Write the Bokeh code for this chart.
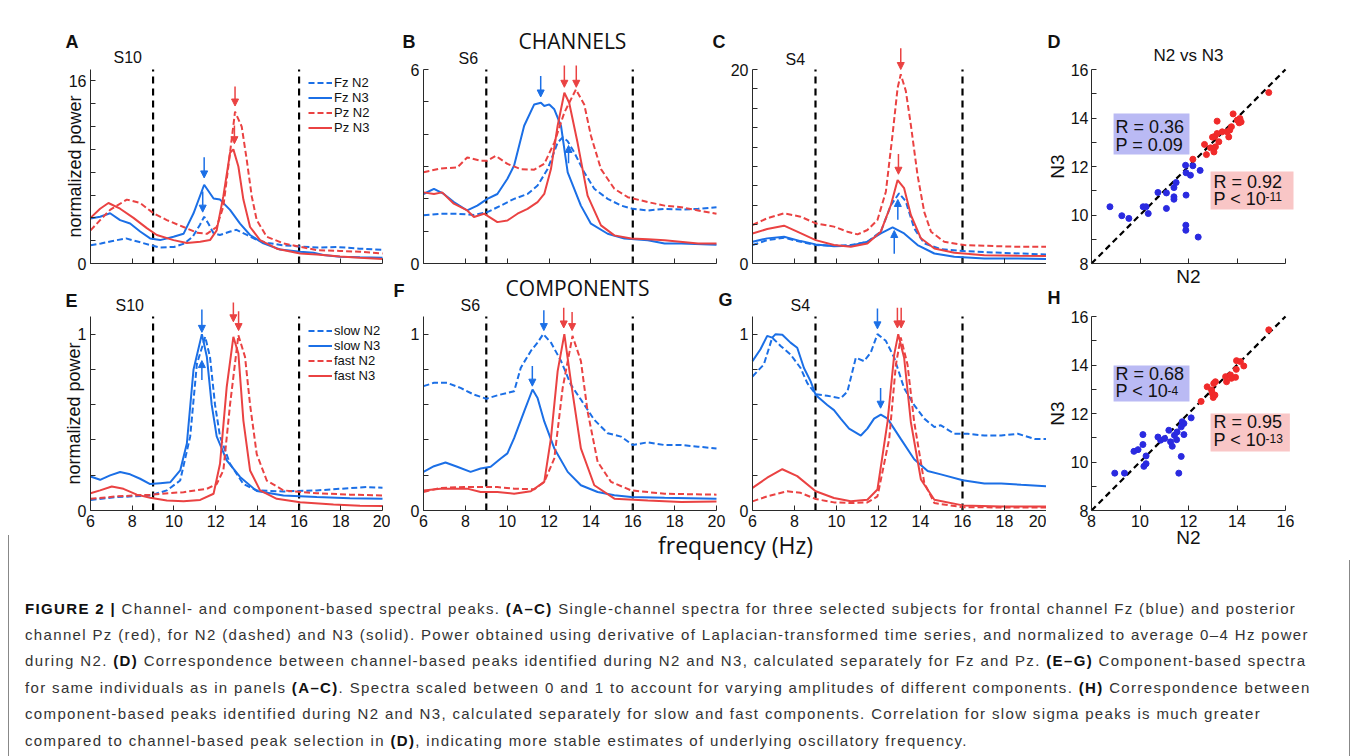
from bokeh.plotting import figure
from bokeh.layouts import row, column
from bokeh.models import (Label, Legend, LegendItem, Arrow, NormalHead, LinearAxis,
                          FixedTicker, BoxAnnotation, Div)
from bokeh.embed import file_html
from bokeh.resources import INLINE

# ---------------- colours / fonts ----------------
BLUE = "#1b6fe6"
RED = "#ea4242"
DOT_BLUE = "#2a2ae0"
DOT_RED = "#f02a2a"
BOX_BLUE = "#babaf4"
BOX_RED = "#f9c6c6"
FONT = "Liberation Sans"
FONT2 = "Open Sans"
FIX = 0.38   # raise alphabetic-baseline labels by this fraction of their size

# ---------------- data ----------------
freq_ticks = [6, 8, 10, 12, 14, 16, 18, 20]
sigma_band = [9, 16]

# Panel A  (S10, channels)
A_fzN2_x = [6.0, 6.5, 7.0, 7.7, 8.3, 8.9, 9.3, 10.0, 10.5, 10.9, 11.25, 11.45, 11.65, 11.9, 12.2, 12.7, 13.0, 13.5, 14.0, 14.5, 15.2, 16.0, 16.9, 17.8, 18.9, 20.0]
A_fzN2_y = [1.6, 1.75, 1.95, 2.2, 1.9, 1.6, 1.4, 1.45, 1.75, 2.35, 3.4, 4.1, 3.5, 2.65, 2.5, 2.8, 2.95, 2.5, 2.05, 1.8, 1.6, 1.5, 1.4, 1.45, 1.3, 1.2]
A_fzN3_x = [6.0, 6.46, 6.94, 7.42, 7.9, 8.38, 8.86, 9.34, 9.98, 10.46, 10.94, 11.45, 11.9, 12.21, 12.69, 13.17, 13.65, 14.29, 15.09, 16.05, 16.69, 17.17, 17.96, 18.92, 20.0]
A_fzN3_y = [3.95, 4.1, 4.4, 3.8, 3.5, 2.8, 2.2, 2.05, 2.35, 2.6, 4.4, 6.9, 5.7, 5.6, 4.7, 3.5, 2.5, 1.76, 1.23, 1.03, 0.94, 0.75, 0.6, 0.55, 0.5]
A_pzN2_x = [6.0, 6.46, 6.94, 7.74, 8.38, 9.02, 9.66, 10.46, 11.1, 11.58, 12.05, 12.37, 12.69, 12.93, 13.25, 13.49, 13.73, 13.97, 14.45, 15.25, 16.05, 16.85, 17.96, 18.92, 20.0]
A_pzN2_y = [2.9, 3.8, 4.7, 5.6, 5.3, 4.4, 3.8, 3.2, 2.7, 2.6, 3.2, 5.0, 9.7, 13.3, 12.0, 9.1, 5.9, 3.8, 2.35, 1.76, 1.47, 1.17, 1.1, 1.03, 0.88]
A_pzN3_x = [6.0, 6.46, 6.86, 7.42, 8.06, 8.7, 9.18, 9.98, 10.62, 11.26, 11.73, 12.05, 12.37, 12.69, 12.85, 13.09, 13.33, 13.65, 14.13, 14.93, 16.05, 16.85, 17.96, 18.92, 20.0]
A_pzN3_y = [4.0, 4.8, 5.3, 4.8, 4.0, 3.1, 2.5, 2.05, 1.8, 1.9, 2.05, 2.9, 5.9, 9.7, 10.0, 8.5, 5.6, 3.2, 2.05, 1.3, 0.88, 0.79, 0.62, 0.5, 0.4]
A_arrow_x = [12.93, 12.9, 11.45, 11.38]
A_arrow_tail = [15.5, 12.1, 9.3, 6.3]
A_arrow_tip = [13.8, 10.5, 7.5, 4.5]
A_arrow_col = ["red", "red", "blue", "blue"]

# Panel B  (S6, channels)
B_fzN2_x = [6.0, 6.81, 7.61, 8.41, 9.05, 9.69, 10.33, 10.97, 11.45, 11.93, 12.41, 12.65, 12.88, 13.2, 13.68, 14.16, 14.8, 15.44, 16.0, 16.72, 17.52, 18.32, 19.12, 20.0]
B_fzN2_y = [1.49, 1.54, 1.54, 1.5, 1.59, 1.79, 2.0, 2.15, 2.41, 2.92, 3.74, 3.9, 3.79, 3.44, 2.82, 2.31, 2.0, 1.79, 1.69, 1.64, 1.69, 1.67, 1.69, 1.74]
B_fzN3_x = [6.0, 6.5, 6.97, 7.45, 8.09, 8.57, 9.05, 9.53, 10.01, 10.33, 10.81, 11.29, 11.61, 11.77, 12.01, 12.25, 12.57, 12.89, 13.52, 14.0, 14.8, 15.6, 16.72, 17.52, 18.32, 20.0]
B_fzN3_y = [2.15, 2.31, 2.15, 1.9, 1.64, 1.79, 2.0, 2.15, 2.62, 3.03, 4.26, 4.92, 4.97, 4.87, 4.92, 4.77, 4.26, 2.82, 1.79, 1.23, 0.92, 0.77, 0.72, 0.62, 0.62, 0.58]
B_pzN2_x = [6.0, 6.81, 7.61, 8.09, 8.73, 9.05, 9.45, 10.01, 10.65, 11.29, 11.77, 12.25, 12.73, 13.28, 13.68, 14.0, 14.48, 15.12, 15.76, 16.72, 17.52, 18.32, 19.12, 20.0]
B_pzN2_y = [2.82, 2.94, 2.97, 3.28, 3.18, 3.18, 3.33, 3.08, 2.92, 2.9, 3.08, 3.74, 4.67, 5.38, 4.92, 3.95, 2.92, 2.31, 2.05, 1.9, 1.79, 1.74, 1.64, 1.54]
B_pzN3_x = [6.0, 6.5, 6.89, 7.45, 8.09, 8.41, 8.89, 9.53, 10.01, 10.49, 10.97, 11.45, 11.77, 12.09, 12.41, 12.73, 12.96, 13.36, 13.84, 14.48, 15.12, 15.92, 16.72, 17.52, 19.12, 20.0]
B_pzN3_y = [2.2, 2.15, 2.2, 1.85, 1.64, 1.44, 1.54, 1.28, 1.33, 1.54, 1.69, 1.9, 2.15, 2.92, 4.26, 5.28, 4.97, 3.74, 2.1, 1.18, 0.87, 0.77, 0.75, 0.72, 0.62, 0.62]
B_arrow_x = [11.6, 12.73, 13.3, 12.93]
B_arrow_tail = [5.8, 6.12, 6.12, 3.1]
B_arrow_tip = [5.15, 5.45, 5.45, 3.65]
B_arrow_col = ["blue", "red", "red", "blue"]

# Panel C  (S4, channels)
C_pzN2_x = [6.0, 6.7, 7.5, 8.29, 9.01, 9.88, 10.52, 11.0, 11.47, 11.95, 12.35, 12.67, 12.91, 13.06, 13.3, 13.54, 13.86, 14.18, 14.5, 15.13, 16.09, 17.04, 18.63, 20.0]
C_pzN2_y = [3.97, 4.66, 5.17, 4.83, 4.14, 3.8, 3.28, 3.0, 3.45, 4.48, 7.4, 13.3, 18.1, 19.5, 17.8, 14.3, 9.1, 5.3, 3.28, 2.24, 1.9, 1.83, 1.72, 1.72]
C_pzN3_x = [6.0, 6.7, 7.5, 8.13, 9.01, 9.88, 10.68, 11.47, 12.11, 12.59, 12.91, 13.22, 13.54, 14.02, 14.66, 15.61, 17.04, 18.63, 20.0]
C_pzN3_y = [3.1, 3.55, 3.9, 3.28, 2.41, 1.9, 1.72, 2.07, 3.28, 6.03, 8.6, 7.76, 5.0, 2.6, 1.55, 1.1, 0.86, 0.79, 0.76]
C_fzN2_x = [6.0, 6.7, 7.5, 8.29, 9.01, 9.88, 10.68, 11.47, 12.11, 12.59, 12.98, 13.3, 13.7, 14.18, 14.97, 16.09, 17.84, 20.0]
C_fzN2_y = [1.9, 2.41, 2.66, 2.24, 1.9, 1.83, 1.9, 2.24, 3.28, 6.0, 7.24, 6.4, 3.62, 2.07, 1.48, 1.28, 1.1, 0.93]
C_fzN3_x = [6.0, 6.7, 7.5, 8.29, 9.01, 9.88, 10.68, 11.47, 12.11, 12.67, 13.22, 13.86, 14.66, 15.61, 17.04, 18.63, 20.0]
C_fzN3_y = [2.24, 2.59, 2.76, 2.31, 1.97, 1.79, 1.83, 2.24, 3.1, 3.72, 3.1, 1.9, 1.03, 0.69, 0.52, 0.52, 0.45]
C_arrow_x = [13.06, 12.95, 12.92, 12.75]
C_arrow_tail = [22.2, 11.3, 4.5, 1.0]
C_arrow_tip = [20.0, 9.2, 6.6, 3.4]
C_arrow_col = ["red", "red", "blue", "blue"]

# Panel E  (S10, components)
E_slowN2_x = [6.0, 7.26, 8.86, 9.66, 10.3, 10.78, 11.1, 11.5, 11.73, 11.97, 12.21, 12.69, 13.33, 13.97, 15.25, 16.85, 17.96, 19.24, 20.0]
E_slowN2_y = [0.06, 0.076, 0.085, 0.114, 0.17, 0.42, 0.83, 0.985, 0.87, 0.6, 0.42, 0.265, 0.15, 0.114, 0.108, 0.114, 0.123, 0.133, 0.129]
E_slowN3_x = [6.0, 6.46, 6.94, 7.42, 7.9, 8.38, 8.86, 9.34, 9.82, 10.3, 10.62, 10.94, 11.34, 11.58, 11.81, 12.05, 12.53, 13.17, 13.97, 15.25, 16.85, 18.44, 20.0]
E_slowN3_y = [0.193, 0.174, 0.199, 0.218, 0.205, 0.18, 0.15, 0.155, 0.16, 0.227, 0.38, 0.8, 1.0, 0.87, 0.6, 0.42, 0.284, 0.19, 0.11, 0.085, 0.076, 0.07, 0.066]
E_fastN2_x = [6.0, 7.26, 8.86, 10.46, 11.58, 12.05, 12.37, 12.69, 13.09, 13.41, 13.65, 13.97, 14.45, 15.25, 16.85, 18.44, 20.0]
E_fastN2_y = [0.066, 0.08, 0.09, 0.104, 0.123, 0.15, 0.227, 0.6, 0.994, 0.87, 0.6, 0.32, 0.17, 0.114, 0.098, 0.09, 0.085]
E_fastN3_x = [6.0, 6.46, 7.02, 7.58, 8.22, 8.86, 9.66, 10.46, 11.26, 11.9, 12.21, 12.53, 12.85, 13.09, 13.33, 13.65, 14.13, 14.93, 16.05, 17.65, 18.92, 20.0]
E_fastN3_y = [0.098, 0.114, 0.136, 0.123, 0.09, 0.072, 0.057, 0.053, 0.06, 0.095, 0.265, 0.7, 0.985, 0.89, 0.51, 0.227, 0.114, 0.066, 0.047, 0.034, 0.027, 0.025]
E_arrow_x = [11.34, 11.34, 12.85, 13.1]
E_arrow_tail = [1.14, 0.74, 1.18, 1.13]
E_arrow_tip = [1.01, 0.85, 1.07, 1.02]
E_arrow_col = ["blue", "blue", "red", "red"]

# Panel F  (S6, components)
F_slowN2_x = [6.0, 6.5, 7.13, 7.77, 8.41, 9.0, 9.53, 10.01, 10.33, 10.65, 11.13, 11.45, 11.72, 12.09, 12.57, 13.04, 13.52, 14.16, 14.8, 15.44, 16.0, 16.72, 17.52, 18.32, 19.12, 20.0]
F_slowN2_y = [0.705, 0.724, 0.724, 0.695, 0.657, 0.634, 0.653, 0.667, 0.676, 0.81, 0.905, 0.952, 1.0, 0.952, 0.848, 0.714, 0.629, 0.514, 0.438, 0.419, 0.371, 0.387, 0.371, 0.371, 0.362, 0.352]
F_slowN3_x = [6.0, 6.5, 7.05, 7.61, 8.25, 8.73, 9.21, 9.69, 10.01, 10.33, 10.81, 11.21, 11.45, 11.77, 12.25, 12.89, 13.52, 14.32, 15.12, 15.92, 17.52, 20.0]
F_slowN3_y = [0.219, 0.251, 0.272, 0.248, 0.219, 0.238, 0.248, 0.295, 0.324, 0.41, 0.562, 0.686, 0.638, 0.505, 0.352, 0.219, 0.143, 0.105, 0.086, 0.076, 0.072, 0.067]
F_fastN2_x = [6.0, 6.81, 7.93, 8.73, 9.53, 10.33, 11.29, 11.77, 12.25, 12.65, 13.12, 13.52, 13.84, 14.32, 14.96, 15.92, 17.52, 20.0]
F_fastN2_y = [0.105, 0.128, 0.133, 0.133, 0.133, 0.124, 0.12, 0.162, 0.295, 0.695, 0.99, 0.848, 0.562, 0.276, 0.162, 0.114, 0.095, 0.09]
F_fastN3_x = [6.0, 6.81, 8.09, 8.73, 9.53, 10.33, 11.13, 11.77, 12.09, 12.41, 12.73, 13.04, 13.52, 14.16, 15.12, 16.72, 18.32, 20.0]
F_fastN3_y = [0.114, 0.124, 0.124, 0.105, 0.105, 0.095, 0.109, 0.162, 0.41, 0.79, 1.0, 0.733, 0.352, 0.143, 0.067, 0.057, 0.048, 0.051]
F_arrow_x = [11.75, 11.2, 12.7, 13.1]
F_arrow_tail = [1.135, 0.82, 1.15, 1.125]
F_arrow_tip = [1.02, 0.705, 1.035, 1.02]
F_arrow_col = ["blue", "blue", "red", "red"]

# Panel G  (S4, components)
G_slowN2_x = [6.0, 6.54, 6.94, 7.34, 7.81, 8.29, 8.61, 9.01, 9.56, 10.2, 10.52, 10.92, 11.31, 11.63, 11.95, 12.35, 12.75, 13.22, 13.7, 14.18, 14.66, 14.97, 15.61, 16.25, 17.04, 17.84, 18.63, 19.43, 20.0]
G_slowN2_y = [0.76, 0.828, 0.98, 0.933, 0.885, 0.808, 0.722, 0.659, 0.651, 0.636, 0.674, 0.866, 0.847, 0.895, 1.0, 0.962, 0.866, 0.693, 0.598, 0.521, 0.473, 0.483, 0.435, 0.435, 0.425, 0.425, 0.435, 0.406, 0.406]
G_slowN3_x = [6.0, 6.38, 6.7, 6.94, 7.1, 7.42, 7.81, 8.13, 8.45, 8.77, 9.01, 9.56, 9.88, 10.2, 10.6, 11.16, 11.47, 11.79, 12.11, 12.43, 13.06, 13.7, 14.34, 14.97, 16.01, 17.04, 17.84, 18.79, 20.0]
G_slowN3_y = [0.847, 0.914, 0.99, 0.98, 1.0, 0.996, 0.952, 0.923, 0.808, 0.732, 0.655, 0.598, 0.569, 0.521, 0.464, 0.425, 0.464, 0.521, 0.544, 0.521, 0.406, 0.291, 0.224, 0.205, 0.172, 0.153, 0.153, 0.146, 0.138]
G_fastN2_x = [6.0, 6.7, 7.65, 8.29, 9.01, 9.88, 10.68, 11.47, 11.95, 12.51, 12.83, 13.06, 13.38, 13.7, 14.18, 14.66, 16.01, 17.84, 20.0]
G_fastN2_y = [0.052, 0.08, 0.109, 0.1, 0.065, 0.046, 0.042, 0.046, 0.08, 0.406, 0.828, 0.981, 0.828, 0.502, 0.157, 0.042, 0.019, 0.017, 0.017]
G_fastN3_x = [6.0, 6.7, 7.42, 8.13, 9.01, 9.88, 10.68, 11.47, 11.95, 12.43, 12.75, 12.94, 13.22, 13.54, 14.02, 14.66, 16.01, 17.84, 20.0]
G_fastN3_y = [0.128, 0.186, 0.234, 0.195, 0.109, 0.071, 0.052, 0.061, 0.119, 0.502, 0.885, 1.0, 0.866, 0.502, 0.176, 0.061, 0.029, 0.023, 0.023]
G_arrow_x = [11.95, 12.1, 12.9, 13.08]
G_arrow_tail = [1.145, 0.695, 1.15, 1.15]
G_arrow_tip = [1.03, 0.58, 1.035, 1.035]
G_arrow_col = ["blue", "blue", "red", "red"]

# Panel D  (channel peaks, N2 vs N3)
D_fz_n2 = [8.76, 9.25, 9.54, 10.13, 10.25, 10.34, 10.74, 11.09, 11.09, 11.4, 11.49, 11.4, 11.4, 11.88, 11.9, 12.08, 12.18, 12.48, 11.9, 11.89, 11.89, 12.4]
D_fz_n3 = [10.34, 9.97, 9.86, 10.34, 10.34, 10.06, 10.93, 10.91, 10.27, 11.13, 11.34, 10.75, 10.65, 12.05, 11.74, 11.64, 12.03, 11.84, 10.82, 9.58, 9.37, 9.09]
D_pz_n2 = [12.18, 12.66, 12.74, 12.91, 13.05, 12.99, 13.09, 13.18, 13.18, 13.25, 13.39, 13.59, 13.66, 13.7, 13.77, 13.84, 14.01, 14.09, 14.12, 14.17, 15.31, 13.11]
D_pz_n3 = [12.3, 12.91, 12.49, 12.77, 12.6, 13.21, 13.24, 13.87, 13.36, 13.02, 13.43, 13.43, 13.22, 13.5, 13.64, 14.17, 13.91, 13.8, 13.98, 13.84, 15.05, 12.81]

# Panel H  (component peaks, N2 vs N3)
H_slow_n2 = [8.96, 9.36, 9.75, 9.92, 10.12, 10.12, 10.16, 10.25, 10.25, 10.74, 10.85, 11.02, 11.19, 11.26, 11.33, 11.42, 11.51, 11.53, 11.7, 11.74, 11.81, 11.7, 11.6, 11.81, 12.11]
H_slow_n3 = [9.54, 9.54, 10.44, 10.51, 10.72, 11.13, 9.82, 9.93, 10.25, 11.03, 10.9, 10.97, 11.31, 10.83, 10.65, 11.1, 10.92, 11.24, 11.45, 11.66, 11.59, 10.23, 9.54, 11.13, 11.82]
H_fast_n2 = [12.52, 12.77, 12.95, 12.98, 13.02, 13.09, 13.04, 13.11, 13.57, 13.53, 13.73, 13.94, 13.77, 13.97, 13.98, 14.14, 14.28, 15.31]
H_fast_n3 = [12.5, 13.1, 12.97, 12.83, 12.66, 12.76, 13.24, 13.31, 13.31, 13.52, 13.59, 13.49, 13.45, 13.82, 14.18, 14.14, 13.96, 15.45]
identity_line = [8, 16]
peak_ticks = [8, 10, 12, 14, 16]
peak_minor = [9, 11, 13, 15]

stats_D = [("R = 0.36", "P = 0.09", ""), ("R = 0.92", "P < 10", "-11")]
stats_H = [("R = 0.68", "P < 10", "-4"), ("R = 0.95", "P < 10", "-13")]

caption_lines = [
    "<b>FIGURE 2 |</b> Channel- and component-based spectral peaks. <b>(A–C)</b> Single-channel spectra for three selected subjects for frontal channel Fz (blue) and posterior",
    "channel Pz (red), for N2 (dashed) and N3 (solid). Power obtained using derivative of Laplacian-transformed time series, and normalized to average 0–4 Hz power",
    "during N2. <b>(D)</b> Correspondence between channel-based peaks identified during N2 and N3, calculated separately for Fz and Pz. <b>(E–G)</b> Component-based spectra",
    "for same individuals as in panels <b>(A–C)</b>. Spectra scaled between 0 and 1 to account for varying amplitudes of different components. <b>(H)</b> Correspondence between",
    "component-based peaks identified during N2 and N3, calculated separately for slow and fast components. Correlation for slow sigma peaks is much greater",
    "compared to channel-based peak selection in <b>(D)</b>, indicating more stable estimates of underlying oscillatory frequency.",
]

COL = {"blue": BLUE, "red": RED}


# ---------------- helpers ----------------
def style_axis(ax, tick_font="16px"):
    ax.axis_line_color = "#2a2a2a"
    ax.axis_line_width = 1
    ax.major_tick_line_color = "#2a2a2a"
    ax.minor_tick_line_color = "#2a2a2a"
    ax.major_tick_in = 5
    ax.major_tick_out = 0
    ax.minor_tick_in = 5
    ax.minor_tick_out = 0
    ax.major_label_text_font = FONT
    ax.major_label_text_font_size = tick_font
    ax.major_label_text_color = "#111111"
    ax.axis_label_text_font = FONT
    ax.axis_label_text_font_style = "normal"
    ax.axis_label_text_color = "#111111"


def base_fig(W, H, ax_px, end_px, xa, xb, base_px, ya, yb):
    """Canvas == frame; axis at ax_px (x) and base_px (y, from top); data top 194 px above."""
    sx = (xb - xa) / (end_px - ax_px)
    sy = (yb - ya) / 194.0
    p = figure(width=W, height=H, min_border=0,
               x_range=(xa - ax_px * sx, xa + (W - ax_px) * sx),
               y_range=(ya - (H - base_px) * sy, ya + base_px * sy),
               x_axis_location=None, y_axis_location=None,
               output_backend="svg", toolbar_location=None, title=None)
    p.grid.visible = False
    p.outline_line_color = None
    p.background_fill_color = "white"
    p.border_fill_color = "white"
    return p


def txt(p, x, y, text, size, font=FONT, style="normal", align="left"):
    p.add_layout(Label(x=x, y=y + FIX * size, x_units="screen", y_units="screen", text=text,
                       text_font=font, text_font_size=f"{size}px", text_font_style=style,
                       text_align=align, text_baseline="alphabetic", text_color="#111111"))


def spec_fig(W, H, ax_px, end_px, base_px, ymax, yticks, yminor, show_x, curves, arrows,
             legend_labels=None, legend_loc=None, ylabel=None, ylabel_standoff=-18):
    p = base_fig(W, H, ax_px, end_px, 6, 20, base_px, 0, ymax)
    if show_x:
        xt = FixedTicker(ticks=freq_ticks)
    else:
        xt = FixedTicker(ticks=[], minor_ticks=freq_ticks)
    xaxis = LinearAxis(fixed_location=0, bounds=(6, 20), ticker=xt)
    style_axis(xaxis)
    xaxis.major_label_standoff = 4
    p.add_layout(xaxis, "below")
    yaxis = LinearAxis(fixed_location=6, bounds=(0, ymax),
                       ticker=FixedTicker(ticks=yticks, minor_ticks=yminor))
    style_axis(yaxis)
    yaxis.major_label_standoff = 4
    if ylabel:
        yaxis.axis_label = ylabel
        yaxis.axis_label_text_font_size = "18px"
        yaxis.axis_label_standoff = ylabel_standoff
    p.add_layout(yaxis, "left")
    p.segment(x0=sigma_band, y0=[0] * len(sigma_band), x1=sigma_band, y1=[ymax] * len(sigma_band),
              line_color="black", line_dash="7 5", line_width=2.2)
    rends = []
    for xs, ys, col, dash in curves:
        r = p.line(xs, ys, line_color=col, line_width=2,
                   line_dash="6 3" if dash else "solid")
        rends.append(r)
    ax, atail, atip, acol = arrows
    for x, t0, t1, c in zip(ax, atail, atip, acol):
        cc = COL[c]
        p.add_layout(Arrow(end=NormalHead(size=7, fill_color=cc, line_color=cc),
                           x_start=x, y_start=t0, x_end=x, y_end=t1,
                           line_color=cc, line_width=1.5))
    if legend_labels:
        items = [LegendItem(label=lab, renderers=[r]) for lab, r in zip(legend_labels, rends)]
        leg = Legend(items=items, location=legend_loc, label_text_font=FONT,
                     label_text_font_size="13px", label_text_color="#111111",
                     glyph_width=24, glyph_height=13, label_height=13, spacing=0,
                     padding=0, margin=0, label_standoff=2, border_line_color=None,
                     background_fill_alpha=0)
        p.add_layout(leg)
    return p


def peak_fig(W, H, base_px, show_x, pts, cols, boxes):
    p = base_fig(W, H, 45, 239, 8, 16, base_px, 8, 16)
    if show_x:
        xt = FixedTicker(ticks=peak_ticks)
    else:
        xt = FixedTicker(ticks=[], minor_ticks=peak_ticks)
    xaxis = LinearAxis(fixed_location=8, bounds=(8, 16), ticker=xt, axis_label="N2")
    style_axis(xaxis)
    xaxis.axis_label_text_font_size = "19px"
    if show_x:
        xaxis.major_label_standoff = 4
        xaxis.axis_label_standoff = -3
    else:
        xaxis.axis_label_standoff = 2
    p.add_layout(xaxis, "below")
    yaxis = LinearAxis(fixed_location=8, bounds=(8, 16), axis_label="N3",
                       ticker=FixedTicker(ticks=peak_ticks, minor_ticks=peak_minor))
    style_axis(yaxis)
    yaxis.major_label_standoff = 3
    yaxis.axis_label_text_font_size = "19px"
    yaxis.axis_label_standoff = 0
    p.add_layout(yaxis, "left")
    for (bx0, bx1, by0, by1), fc in zip(boxes, [BOX_BLUE, BOX_RED]):
        p.add_layout(BoxAnnotation(left=bx0, right=bx1, bottom=by0, top=by1,
                                   fill_color=fc, fill_alpha=1, line_color=None,
                                   level="underlay"))
    p.line(identity_line, identity_line, line_color="black", line_width=2.2, line_dash="6 4")
    for (xs, ys), c in zip(pts, cols):
        p.scatter(xs, ys, size=6, fill_color=c, line_color=c)
    return p


def stat_text(p, stat, x, y1, y2, sup_x, sup_y):
    l1, l2, sup = stat
    txt(p, x, y1, l1, 18)
    txt(p, x, y2, l2, 18)
    if sup:
        txt(p, sup_x, sup_y, sup, 12)


# ---------------- panels ----------------
leg_ch = ["Fz N2", "Fz N3", "Pz N2", "Pz N3"]
leg_cp = ["slow N2", "slow N3", "fast N2", "fast N3"]
ch_minor = {17: [2, 4, 6, 8, 10, 12, 14], 6: [1, 2, 3, 4, 5], 20: [2, 4, 6, 8, 10, 12, 14, 16, 18]}
cp_minor = [0.2, 0.4, 0.6, 0.8]

# top row: A (0-400), B (400-727), C (727-1046); height 275
pA = spec_fig(400, 275, 90, 382, 263, 17, [0, 16], ch_minor[17], False,
              [(A_fzN2_x, A_fzN2_y, BLUE, True), (A_fzN3_x, A_fzN3_y, BLUE, False),
               (A_pzN2_x, A_pzN2_y, RED, True), (A_pzN3_x, A_pzN3_y, RED, False)],
              (A_arrow_x, A_arrow_tail, A_arrow_tip, A_arrow_col),
              leg_ch, (308, 140), "normalized power", -19)
txt(pA, 65, 227, "A", 18, style="bold")
txt(pA, 113, 212, "S10", 16)

pB = spec_fig(327, 275, 23, 316, 263, 6, [0, 6], ch_minor[6], False,
              [(B_fzN2_x, B_fzN2_y, BLUE, True), (B_fzN3_x, B_fzN3_y, BLUE, False),
               (B_pzN2_x, B_pzN2_y, RED, True), (B_pzN3_x, B_pzN3_y, RED, False)],
              (B_arrow_x, B_arrow_tail, B_arrow_tip, B_arrow_col))
txt(pB, 2, 227, "B", 18, style="bold")
txt(pB, 58, 211, "S6", 16)
txt(pB, 172, 227, "CHANNELS", 21, font=FONT2, align="center")
txt(pB, 312, 227, "C", 18, style="bold")

pC = spec_fig(319, 275, 25, 319, 263, 20, [0, 20], ch_minor[20], False,
              [(C_fzN2_x, C_fzN2_y, BLUE, True), (C_fzN3_x, C_fzN3_y, BLUE, False),
               (C_pzN2_x, C_pzN2_y, RED, True), (C_pzN3_x, C_pzN3_y, RED, False)],
              (C_arrow_x, C_arrow_tail, C_arrow_tip, C_arrow_col))
txt(pC, 58, 210, "S4", 16)

# bottom row: E (0-390), F (390-734), G (734-1046); height 260
pE = spec_fig(390, 260, 90, 382, 235, 1.1, [0, 1], cp_minor, True,
              [(E_slowN2_x, E_slowN2_y, BLUE, True), (E_slowN3_x, E_slowN3_y, BLUE, False),
               (E_fastN2_x, E_fastN2_y, RED, True), (E_fastN3_x, E_fastN3_y, RED, False)],
              (E_arrow_x, E_arrow_tail, E_arrow_tip, E_arrow_col),
              leg_cp, (308, 152), "normalized power", -9)
txt(pE, 65, 228, "E", 18, style="bold")
txt(pE, 115, 224, "S10", 16)

pF = spec_fig(344, 260, 33, 326, 235, 1.1, [0, 1], cp_minor, True,
              [(F_slowN2_x, F_slowN2_y, BLUE, True), (F_slowN3_x, F_slowN3_y, BLUE, False),
               (F_fastN2_x, F_fastN2_y, RED, True), (F_fastN3_x, F_fastN3_y, RED, False)],
              (F_arrow_x, F_arrow_tail, F_arrow_tip, F_arrow_col))
txt(pF, 3, 238, "F", 18, style="bold")
txt(pF, 70, 224, "S6", 16)
txt(pF, 187, 240, "COMPONENTS", 21, font=FONT2, align="center")
txt(pF, 328, 229, "G", 18, style="bold")

pG = spec_fig(312, 260, 18, 312, 235, 1.1, [0, 1], cp_minor, True,
              [(G_slowN2_x, G_slowN2_y, BLUE, True), (G_slowN3_x, G_slowN3_y, BLUE, False),
               (G_fastN2_x, G_fastN2_y, RED, True), (G_fastN3_x, G_fastN3_y, RED, False)],
              (G_arrow_x, G_arrow_tail, G_arrow_tip, G_arrow_col))
txt(pG, 56, 224, "S4", 16)

# right column: D (0-287), H (287-553); width 306
pD = peak_fig(306, 287, 263, False, [(D_fz_n2, D_fz_n3), (D_pz_n2, D_pz_n3)],
              [DOT_BLUE, DOT_RED],
              [(8.91, 12.04, 12.49, 14.19), (12.91, 16.33, 10.23, 11.79)])
txt(pD, 1, 239, "D", 18, style="bold")
txt(pD, 142, 226, "N2 vs N3", 17, align="center")
stat_text(pD, stats_D[0], 69, 154, 136, 0, 0)
stat_text(pD, stats_D[1], 167, 99, 82, 219, 86)

pH = peak_fig(306, 266, 223, True, [(H_slow_n2, H_slow_n3), (H_fast_n2, H_fast_n3)],
              [DOT_BLUE, DOT_RED],
              [(8.91, 12.04, 12.49, 13.98), (12.91, 16.18, 10.43, 12.0)])
txt(pH, 1, 249, "H", 18, style="bold")
stat_text(pH, stats_H[0], 69, 173, 156, 121, 158)
stat_text(pH, stats_H[1], 167, 125, 107, 219, 110)

# ---------------- shared x label + caption ----------------
freq_div = Div(text="""<div style="position:relative;width:1046px;height:25px;">
<div style="position:absolute;left:8px;top:0px;width:0px;height:25px;border-left:1px solid #888;"></div>
<div style="position:absolute;left:658px;top:0px;font-family:'Open Sans',sans-serif;font-size:23px;line-height:20px;color:#111;white-space:nowrap;">frequency (Hz)</div>
</div>""", width=1046, height=25, margin=0)

lines_html = "<br>".join(caption_lines).replace("<b>", '<b style="color:#111">')
cap_html = f"""<div style="position:relative;width:1352px;height:196px;overflow:hidden;">
<div style="position:absolute;left:8px;top:0px;width:1342px;height:196px;border-left:1px solid #888;border-right:1px solid #888;"></div>
<div style="position:absolute;left:25px;top:35.6px;font-family:'Liberation Sans',Arial,sans-serif;font-size:15px;line-height:26.4px;letter-spacing:1.35px;color:#333;white-space:nowrap;">{lines_html}</div>
</div>"""
caption = Div(text=cap_html, width=1352, height=196, margin=0)

left_block = column(row(pA, pB, pC), row(pE, pF, pG), freq_div)
right_block = column(pD, pH)
layout = column(row(left_block, right_block), caption)

open("out.html", "w").write(file_html(layout, INLINE))
